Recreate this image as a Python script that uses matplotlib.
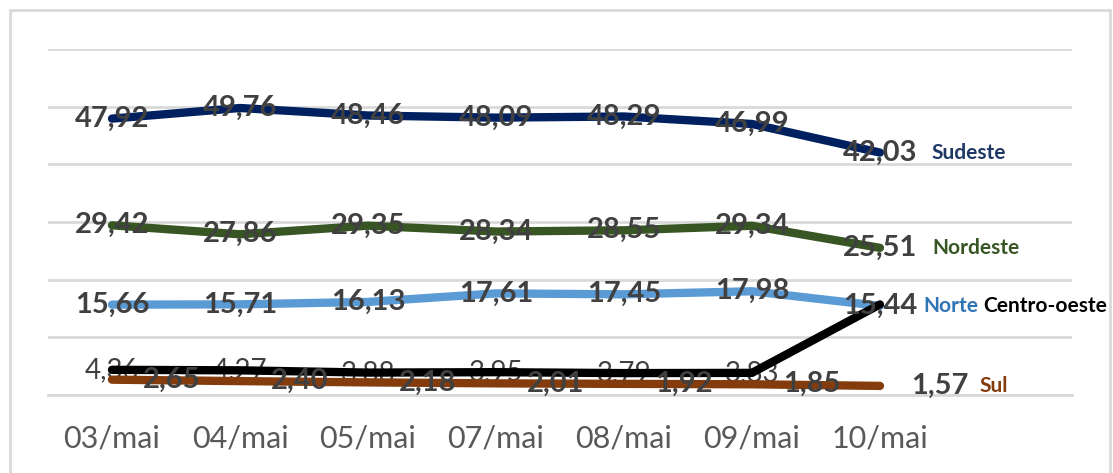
import matplotlib

matplotlib.use("Agg")
import matplotlib.pyplot as plt
from matplotlib.patches import Rectangle

plt.rcParams["font.family"] = ["Lato", "DejaVu Sans"]

# dias da semana e percentuais por região
dias = ["03/mai", "04/mai", "05/mai", "07/mai", "08/mai", "09/mai", "10/mai"]
sudeste = [47.92, 49.76, 48.46, 48.09, 48.29, 46.99, 42.03]
nordeste = [29.42, 27.86, 29.35, 28.34, 28.55, 29.34, 25.51]
norte = [15.66, 15.71, 16.13, 17.61, 17.45, 17.98, 15.44]
centro_oeste = [4.36, 4.27, 3.88, 3.95, 3.79, 3.83, 15.7]
sul = [2.65, 2.40, 2.18, 2.01, 1.92, 1.85, 1.57]

COR_ROTULO = "#404040"


def fmt(v):
    return f"{v:.2f}".replace(".", ",")


fig = plt.figure(figsize=(11.13, 4.73), dpi=100)
ax = fig.add_axes([0.0431, 0.165, 0.920, 0.7315])

# moldura cinza em volta do gráfico
fig.patches.append(Rectangle((10 / 1113, -0.1), 1100 / 1113, 1.1 - 10 / 473,
                             transform=fig.transFigure, fill=False,
                             edgecolor="#D9D9D9", linewidth=2))

x = list(range(len(dias)))

series = [
    ("Sudeste", sudeste, "#002060", "#1F3864"),
    ("Nordeste", nordeste, "#375623", "#375623"),
    ("Norte", norte, "#5B9BD5", "#2E75B6"),
    ("Centro-oeste", centro_oeste, "#000000", "#000000"),
    ("Sul", sul, "#843C0C", "#843C0C"),
]

z = {"Sul": 3, "Centro-oeste": 4, "Norte": 3, "Nordeste": 3, "Sudeste": 3}
for nome, vals, cor, _ in series:
    ax.plot(x, vals, color=cor, linewidth=6, solid_capstyle="round",
            solid_joinstyle="round", zorder=z[nome])

# rótulos de valores
for nome, vals, cor, _ in series:
    for i, v in enumerate(vals):
        if nome == "Centro-oeste":
            if i == len(vals) - 1:
                continue
            ax.text(i, v, fmt(v), ha="center", va="center", fontsize=20,
                    color=COR_ROTULO, zorder=2)
        elif nome == "Sul":
            ax.text(i + 0.24, v, fmt(v), ha="left", va="center", fontsize=21,
                    fontweight="bold", color=COR_ROTULO, zorder=6)
        else:
            ax.text(i, v, fmt(v), ha="center", va="center", fontsize=21,
                    fontweight="bold", color=COR_ROTULO, zorder=6)

# nomes das regiões à direita
ult = len(dias) - 1
nomes_x = {"Sudeste": 0.40, "Nordeste": 0.41, "Norte": 0.34,
           "Centro-oeste": 0.81, "Sul": 0.78}
for nome, vals, _, cor_txt in series:
    ax.text(ult + nomes_x[nome], vals[-1] if nome != "Centro-oeste" else norte[-1],
            nome, ha="left", va="center", fontsize=15, fontweight="bold",
            color=cor_txt, zorder=6)

ax.set_xlim(-0.5, 7.5)
ax.set_ylim(0, 60)
ax.set_yticks(range(0, 61, 10))
ax.yaxis.grid(True, color="#D9D9D9", linewidth=2)
ax.set_axisbelow(True)
ax.set_xticks(x)
ax.set_xticklabels(dias, fontsize=22, color="#595959")
ax.tick_params(axis="x", length=0, pad=21)
ax.tick_params(axis="y", length=0, labelleft=False)
for s in ["top", "right", "left"]:
    ax.spines[s].set_visible(False)
ax.spines["bottom"].set_color("#D9D9D9")
ax.spines["bottom"].set_linewidth(2)

fig.savefig("out.png", dpi=100)
